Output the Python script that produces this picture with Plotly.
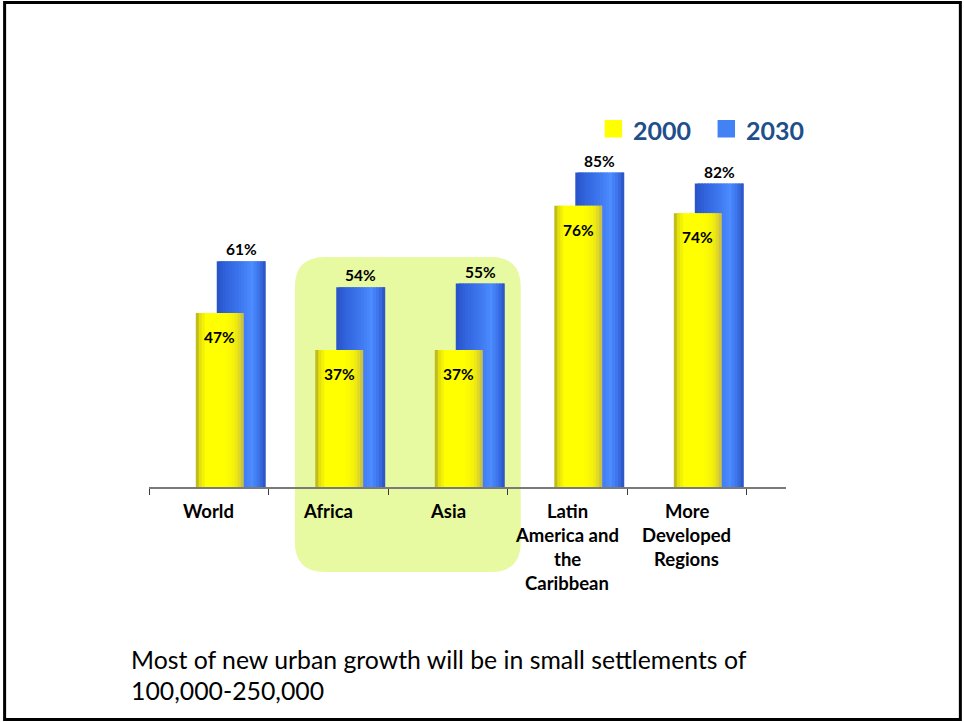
import plotly.graph_objects as go

# ---- data -------------------------------------------------------------
categories = ["World", "Africa", "Asia",
              "Latin<br>America and<br>the<br>Caribbean",
              "More<br>Developed<br>Regions"]
years = ["2000", "2030"]
urban_2000 = [47, 37, 37, 76, 74]
urban_2030 = [61, 54, 55, 85, 82]
note_lines = ["Most of new urban growth will be in small settlements of",
              "100,000-250,000"]

# ---- page geometry ----------------------------------------------------
W, H = 964, 722
ML, MR, MT, MB = 149, 177.5, 117, 235
PW = W - ML - MR
PH = H - MT - MB
X_RANGE = [-0.5, 4.83]
Y_RANGE = [0, 100]
UNIT_PX = PW / (X_RANGE[1] - X_RANGE[0])


def px_x(p):
    return (p - ML) / PW


def px_y(p):
    return (H - MB - p) / PH


FONT = "Lato"
YELLOW = "#ffff00"
BLUE = "#4282f5"
LEGEND_TEXT = "#1f4f8a"

# bar placement relative to each category centre (category units)
Y_OFF, Y_W = -13 / UNIT_PX, 48 / UNIT_PX
B_OFF, B_W = 8 / UNIT_PX, 49 / UNIT_PX

# horizontal shading profiles that give the bars a rounded look
yellow_profile = [(0.0, (175, 170, 35)), (0.1, (232, 229, 10)),
                  (0.22, (255, 255, 0)), (0.62, (255, 255, 0)),
                  (0.82, (244, 240, 12)), (0.94, (215, 207, 45)),
                  (1.0, (185, 180, 100))]
blue_profile = [(0.0, (40, 82, 198)), (0.18, (48, 98, 220)),
                (0.5, (62, 120, 240)), (0.72, (76, 140, 255)),
                (0.88, (58, 112, 232)), (1.0, (42, 80, 188))]


def shade(profile, t):
    for (t0, c0), (t1, c1) in zip(profile, profile[1:]):
        if t0 <= t <= t1:
            f = (t - t0) / (t1 - t0) if t1 > t0 else 0
            r, g, b = (round(a + (bb - a) * f) for a, bb in zip(c0, c1))
            return f"rgb({r},{g},{b})"
    r, g, b = profile[-1][1]
    return f"rgb({r},{g},{b})"


N_STRIPS = 16
xs = list(range(len(categories)))
fig = go.Figure()


def add_shaded_bars(values, offset, width, profile, name):
    sw = width / N_STRIPS
    for k in range(N_STRIPS):
        # each strip overlaps the previous one so no seams show
        strip_w = min(sw * 1.8, width - k * sw)
        fig.add_trace(go.Bar(
            x=xs, y=values, offset=offset + k * sw, width=strip_w,
            marker=dict(color=shade(profile, (k + 0.5) / N_STRIPS),
                        line=dict(width=0)),
            name=name, showlegend=False, hoverinfo="skip"))


# 2030 behind, 2000 in front
add_shaded_bars(urban_2030, B_OFF, B_W, blue_profile, years[1])
add_shaded_bars(urban_2000, Y_OFF, Y_W, yellow_profile, years[0])

annotations = []
# value labels
for i, (a, b) in enumerate(zip(urban_2000, urban_2030)):
    annotations.append(dict(x=i + B_OFF + B_W / 2, y=b, xref="x", yref="y",
                            text=f"<b>{b}%</b>", showarrow=False,
                            yanchor="middle", yshift=12,
                            font=dict(family=FONT, size=15.5, color="black")))
    annotations.append(dict(x=i + Y_OFF + Y_W / 2, y=a, xref="x", yref="y",
                            text=f"<b>{a}%</b>", showarrow=False,
                            yanchor="middle", yshift=-24,
                            font=dict(family=FONT, size=15.5, color="black")))

# category labels, one annotation per line
for i, cat in enumerate(categories):
    for k, line in enumerate(cat.split("<br>")):
        annotations.append(dict(x=i, y=px_y(511 + 24 * k), xref="x",
                                yref="paper", text=f"<b>{line}</b>",
                                showarrow=False, yanchor="middle",
                                xanchor="center",
                                font=dict(family=FONT, size=18.5,
                                          color="black")))

# legend
legend_items = [(years[0], YELLOW, 605, 631), (years[1], BLUE, 718, 744)]
shapes = []
for label, color, sq_x, tx in legend_items:
    shapes.append(dict(type="rect", xref="paper", yref="paper",
                       x0=px_x(sq_x), x1=px_x(sq_x + 17.5),
                       y0=px_y(137.5), y1=px_y(120),
                       fillcolor=color, line=dict(width=0), layer="above"))
    annotations.append(dict(x=px_x(tx), y=px_y(130), xref="paper",
                            yref="paper", text=f"<b>{label}</b>",
                            showarrow=False, xanchor="left",
                            yanchor="middle",
                            font=dict(family=FONT, size=25,
                                      color=LEGEND_TEXT)))

# note text
for k, line in enumerate(note_lines):
    annotations.append(dict(x=px_x(129), y=px_y(659 + 31 * k), xref="paper",
                            yref="paper", text=line, showarrow=False,
                            xanchor="left", yanchor="middle",
                            font=dict(family=FONT, size=24.8, color="black")))


# highlighted group (Africa & Asia): rounded rectangle
def rounded_rect(x0, y0, x1, y1, r):
    pts = [("M", [(x0 + r, y0)]), ("L", [(x1 - r, y0)]),
           ("Q", [(x1, y0), (x1, y0 + r)]), ("L", [(x1, y1 - r)]),
           ("Q", [(x1, y1), (x1 - r, y1)]), ("L", [(x0 + r, y1)]),
           ("Q", [(x0, y1), (x0, y1 - r)]), ("L", [(x0, y0 + r)]),
           ("Q", [(x0, y0), (x0 + r, y0)])]
    out = ""
    for cmd, ps in pts:
        out += cmd + " " + " ".join(f"{px_x(a):.5f},{px_y(b):.5f}"
                                    for a, b in ps) + " "
    return out + "Z"


shapes.append(dict(type="path", xref="paper", yref="paper",
                   path=rounded_rect(295, 257, 521, 572, 30),
                   fillcolor="#e7f9a1", line=dict(width=0), layer="below"))

# slide frame
shapes.append(dict(type="rect", xref="paper", yref="paper",
                   x0=px_x(4.5), x1=px_x(961), y0=px_y(719.5), y1=px_y(2.5),
                   line=dict(color="black", width=3), layer="above"))

fig.update_layout(
    width=W, height=H,
    margin=dict(l=ML, r=MR, t=MT, b=MB, pad=0),
    barmode="overlay",
    paper_bgcolor="white",
    plot_bgcolor="rgba(0,0,0,0)",
    showlegend=False,
    annotations=annotations,
    shapes=shapes,
    xaxis=dict(range=X_RANGE, showgrid=False, zeroline=False,
               showline=True, linecolor="#7a7a7a", linewidth=1.5,
               tickvals=[i - 0.5 for i in range(len(categories) + 1)],
               ticks="outside", ticklen=6, tickcolor="#3a3a3a",
               tickwidth=1, showticklabels=False, fixedrange=True),
    yaxis=dict(range=Y_RANGE, visible=False, fixedrange=True),
)

fig.write_html("out.html")
